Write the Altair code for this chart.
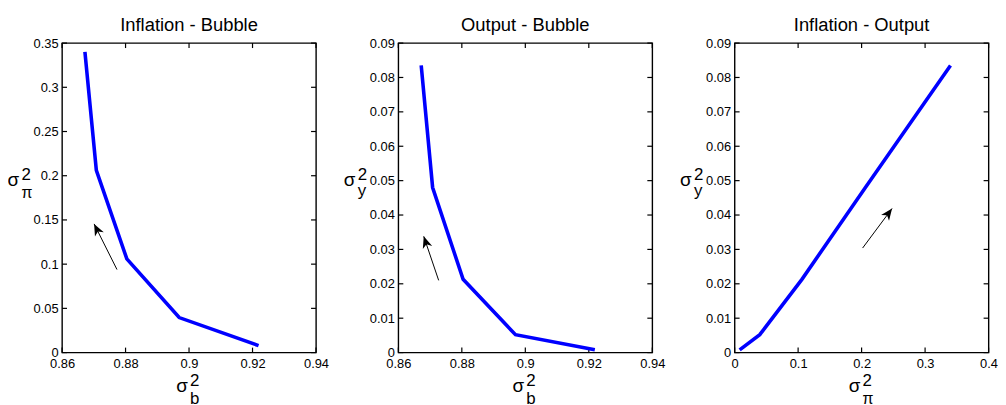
import math
import altair as alt
import pandas as pd

FONT = "Liberation Sans"
W, H = 256, 312

# ---- data ----
bubble_var = [0.8672, 0.8708, 0.8804, 0.8969, 0.9219]
inflation_var = [0.340, 0.206, 0.106, 0.0396, 0.0079]
output_var = [0.0835, 0.048, 0.0213, 0.0052, 0.0008]

titles = ["Inflation - Bubble", "Output - Bubble", "Inflation - Output"]

ticks_bubble = [0.86, 0.88, 0.9, 0.92, 0.94]
ticks_inflation_y = [0, 0.05, 0.1, 0.15, 0.2, 0.25, 0.3, 0.35]
ticks_output = [0, 0.01, 0.02, 0.03, 0.04, 0.05, 0.06, 0.07, 0.08, 0.09]
ticks_inflation_x = [0, 0.1, 0.2, 0.3, 0.4]

arrow_tail_x = [0.8773, 0.8727, 0.2016]
arrow_tail_y = [0.0939, 0.0210, 0.0304]
arrow_head_x = [0.8701, 0.8680, 0.2480]
arrow_head_y = [0.1455, 0.0338, 0.0419]

ARROW_PATH = "M0,0 L0.42,1 L0,0.72 L-0.42,1 Z"
one = pd.DataFrame({"k": [0]})


def glyph(txt, px, py, size, align="left"):
    return alt.Chart(one).mark_text(
        text=txt, font=FONT, fontSize=size, align=align,
        baseline="alphabetic", color="black"
    ).encode(x=alt.value(px), y=alt.value(py))


def panel(xs, ys, xticks, yticks, title, xsub, ysub, k):
    xsc = alt.Scale(domain=[xticks[0], xticks[-1]], nice=False, zero=False)
    ysc = alt.Scale(domain=[yticks[0], yticks[-1]], nice=False, zero=False)
    common = dict(title=None, ticks=False, domain=False, grid=False,
                  labelOverlap=False, labelFont=FONT, labelFontSize=13,
                  labelColor="black")
    xaxis = alt.Axis(values=xticks, format="~g", labelFlush=False,
                     labelPadding=5, **common)
    yaxis = alt.Axis(values=yticks, format="~g", labelPadding=4, **common)

    def X(f):
        return alt.X(f, type="quantitative", scale=xsc, axis=xaxis)

    def Y(f):
        return alt.Y(f, type="quantitative", scale=ysc, axis=yaxis)

    df = pd.DataFrame({"x": xs, "y": ys, "i": list(range(len(xs)))})
    xt = pd.DataFrame({"v": xticks})
    yt = pd.DataFrame({"v": yticks})
    arr = pd.DataFrame({"x1": [arrow_tail_x[k]], "y1": [arrow_tail_y[k]],
                        "x2": [arrow_head_x[k]], "y2": [arrow_head_y[k]]})

    # arrow head rotation from the pixel direction of the arrow
    xr = xticks[-1] - xticks[0]
    yr = yticks[-1] - yticks[0]
    dxp = (arrow_head_x[k] - arrow_tail_x[k]) / xr * W
    dyp = -(arrow_head_y[k] - arrow_tail_y[k]) / yr * H
    ang = math.degrees(math.atan2(dxp, -dyp)) % 360

    line = alt.Chart(df).mark_line(
        color="#0000FF", strokeWidth=3.6, strokeCap="butt"
    ).encode(x=X("x"), y=Y("y"), order="i:O")

    tick_style = dict(color="black", strokeWidth=1.2)
    tb = alt.Chart(xt).mark_rule(**tick_style).encode(
        x=X("v"), y=alt.value(H - 5), y2=alt.value(H))
    tt = alt.Chart(xt).mark_rule(**tick_style).encode(
        x=X("v"), y=alt.value(0), y2=alt.value(5))
    tl = alt.Chart(yt).mark_rule(**tick_style).encode(
        y=Y("v"), x=alt.value(0), x2=alt.value(5))
    tr = alt.Chart(yt).mark_rule(**tick_style).encode(
        y=Y("v"), x=alt.value(W - 5), x2=alt.value(W))

    shaft = alt.Chart(arr).mark_rule(color="black", strokeWidth=1).encode(
        x=X("x1"), y=Y("y1"), x2="x2", y2="y2")
    head = alt.Chart(arr).mark_point(
        shape=ARROW_PATH, filled=True, color="black", opacity=1,
        size=560, angle=ang, strokeWidth=0
    ).encode(x=X("x2"), y=Y("y2"))

    texts = [
        glyph(title, W / 2, -12, 18.5, align="center"),
        # y label
        glyph("σ", -55, 144, 19),
        glyph("2", -41, 138, 17),
        glyph(ysub, -41, 156 if ysub == "π" else 154, 16 if ysub == "π" else 17),
        # x label
        glyph("σ", W / 2 - 13, H + 40, 19),
        glyph("2", W / 2 + 1, H + 34, 17),
        glyph(xsub, W / 2 + 1, H + 52, 16 if xsub == "π" else 17),
    ]

    return alt.layer(tb, tt, tl, tr, line, shaft, head, *texts).properties(
        width=W, height=H)


p1 = panel(bubble_var, inflation_var, ticks_bubble, ticks_inflation_y,
           titles[0], "b", "π", 0)
p2 = panel(bubble_var, output_var, ticks_bubble, ticks_output,
           titles[1], "b", "y", 1)
p3 = panel(inflation_var, output_var, ticks_inflation_x, ticks_output,
           titles[2], "π", "y", 2)

chart = alt.hconcat(p1, p2, p3, spacing=83, bounds="flush").properties(
    autosize=alt.AutoSizeParams(type="none"),
    padding={"left": 54.5, "top": 32.5, "right": 943.5, "bottom": 364.5},
    background="white",
).configure_view(
    stroke="black", strokeWidth=1.4, fill="white"
)

chart.save("out.html", embed_options={"renderer": "svg", "actions": False})
